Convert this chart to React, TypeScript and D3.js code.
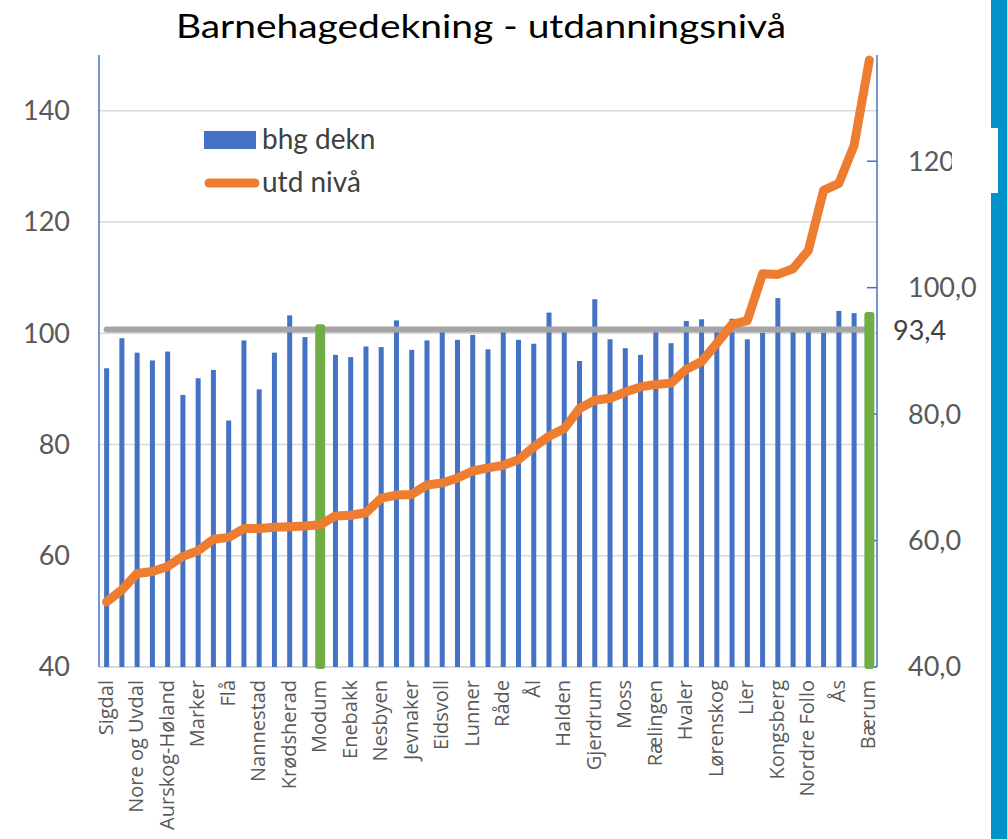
import React from 'react'
import * as d3 from 'd3'

// kommuner sortert etter utdanningsnivå
const kommuner = [
  'Sigdal', 'Rollag', 'Nore og Uvdal', 'Hol', 'Aurskog-Høland', 'Rakkestad', 'Marker', 'Våler', 'Flå', 'Gol',
  'Nannestad', 'Hemsedal', 'Krødsherad', 'Flesberg', 'Modum', 'Øvre Eiker', 'Enebakk', 'Ringerike', 'Nesbyen', 'Indre Østfold',
  'Jevnaker', 'Hurdal', 'Eidsvoll', 'Sarpsborg', 'Lunner', 'Drammen', 'Råde', 'Fredrikstad', 'Ål', 'Nes',
  'Halden', 'Hole', 'Gjerdrum', 'Skiptvet', 'Moss', 'Ullensaker', 'Rælingen', 'Lillestrøm', 'Hvaler', 'Nesodden',
  'Lørenskog', 'Nittedal', 'Lier', 'Vestby', 'Kongsberg', 'Frogn', 'Nordre Follo', 'Asker', 'Ås', 'Oslo',
  'Bærum',
]
const bhgDekn = [
  93.7, 99.1, 96.5, 95.1, 96.7, 88.9, 91.9, 93.4, 84.3, 98.7,
  89.9, 96.5, 103.2, 99.3, 101.6, 96.1, 95.7, 97.6, 97.5, 102.3,
  97.0, 98.7, 100.5, 98.8, 99.7, 97.1, 100.4, 98.8, 98.1, 103.7,
  100.4, 95.0, 106.1, 98.9, 97.3, 96.1, 101.1, 98.2, 102.2, 102.5,
  100.6, 102.6, 98.9, 100.1, 106.3, 100.7, 100.7, 100.1, 104.0, 103.6,
  103.8,
]
const utdNiva = [
  50.3, 52.2, 54.8, 55.1, 55.9, 57.5, 58.4, 60.2, 60.5, 61.9,
  61.9, 62.1, 62.2, 62.3, 62.5, 63.9, 64.0, 64.4, 66.7, 67.2,
  67.3, 68.8, 69.1, 69.9, 71.0, 71.5, 71.9, 72.8, 74.8, 76.5,
  77.7, 80.9, 82.2, 82.5, 83.5, 84.3, 84.7, 84.9, 87.1, 88.3,
  91.2, 94.2, 94.8, 102.2, 102.1, 103.0, 105.9, 115.4, 116.5, 122.5,
  136.0,
]
const uthevet = ['Modum', 'Bærum']
const snittUtd = 93.4
const venstreTicks = [40, 60, 80, 100, 120, 140]
const hoyreTicks = [40, 60, 80, 100, 120]

const W = 1007
const H = 839
const plot = { left: 99, right: 877, top: 55, bottom: 667 }

export default function App() {
  const x = d3.scaleBand<string>().domain(kommuner).range([plot.left, plot.right])
  const cx = (k: string) => (x(k) as number) + x.bandwidth() / 2
  const yL = d3.scaleLinear().domain([40, 150]).range([plot.bottom, plot.top])
  const yR = d3.scaleLinear().domain([40, 136.8]).range([plot.bottom, plot.top])
  const fmt = (v: number) => d3.format('.1f')(v).replace('.', ',')

  const linje = d3.line<number>()
    .x((_, i) => cx(kommuner[i]))
    .y(d => yR(d))

  const calibri = 'Lato, Carlito, Calibri, sans-serif'
  const grey = '#595959'

  return (
    <div style={{ position: 'absolute', left: 0, top: 0 }}>
      <svg width={W} height={H} style={{ display: 'block', background: '#fff' }}>
        <text transform="translate(481,38) scale(1.18,1)" textAnchor="middle" fontFamily={calibri} fontSize={33} fill="#000">
          Barnehagedekning - utdanningsnivå
        </text>

        {/* gridlines */}
        {venstreTicks.map(t => (
          <line key={t} x1={plot.left} x2={plot.right} y1={yL(t)} y2={yL(t)}
            stroke="#d9d9d9" strokeWidth={t === 40 ? 2 : 1.5} />
        ))}

        {/* axes */}
        <line x1={plot.left} x2={plot.left} y1={plot.top} y2={plot.bottom} stroke="#4472c4" strokeWidth={1.5} />
        <line x1={plot.right} x2={plot.right} y1={plot.top} y2={plot.bottom} stroke="#4472c4" strokeWidth={1.5} />
        {hoyreTicks.map(t => (
          <line key={t} x1={plot.right - 10} x2={plot.right} y1={yR(t)} y2={yR(t)} stroke="#4472c4" strokeWidth={1.5} />
        ))}

        {venstreTicks.map(t => (
          <text key={t} x={70} y={yL(t)} dy="0.35em" textAnchor="end" fontFamily={calibri} fontSize={27} fill={grey}>{t}</text>
        ))}
        {hoyreTicks.map(t => (
          <text key={t} x={908} y={yR(t)} dy="0.35em" fontFamily={calibri} fontSize={27} fill={grey}>{fmt(t)}</text>
        ))}

        {/* blue bars */}
        {kommuner.map((k, i) => uthevet.includes(k) ? null : (
          <rect key={k} x={cx(k) - 2.5} width={5} y={yL(bhgDekn[i])} height={yL(40) - yL(bhgDekn[i])} fill="#4472c4" />
        ))}

        {/* average line */}
        <line x1={cx(kommuner[0])} x2={cx(kommuner[kommuner.length - 1])} y1={yR(snittUtd)} y2={yR(snittUtd)}
          stroke="#a5a5a5" strokeWidth={6} strokeLinecap="round" />

        {/* highlighted bars */}
        {kommuner.map((k, i) => uthevet.includes(k) ? (
          <rect key={k} x={cx(k) - 5} width={10} y={yL(bhgDekn[i])} height={yL(40) - yL(bhgDekn[i]) + 2}
            rx={3} fill="#70ad47" />
        ) : null)}

        <path d={linje(utdNiva) || ''} fill="none" stroke="#ed7d31" strokeWidth={9}
          strokeLinejoin="round" strokeLinecap="round" />

        <text x={893} y={yR(snittUtd)} dy="0.4em" fontFamily={calibri} fontSize={27} fill="#404040">{fmt(snittUtd)}</text>

        {/* category labels, every other one */}
        {kommuner.map((k, i) => i % 2 === 0 ? (
          <text key={k} transform={`translate(${cx(k) + 6},680) rotate(-90)`} textAnchor="end"
            fontFamily="'Open Sans', sans-serif" fontSize={20} fill={grey}>{k}</text>
        ) : null)}

        {/* legend */}
        <rect x={204} y={131} width={52} height={18} fill="#4472c4" />
        <text x={262} y={149} fontFamily={calibri} fontSize={28} fill="#404040">bhg dekn</text>
        <line x1={209} x2={255} y1={183} y2={183} stroke="#ed7d31" strokeWidth={9} strokeLinecap="round" />
        <text x={262} y={192} fontFamily={calibri} fontSize={28} fill="#404040">utd nivå</text>

        {/* slide edge */}
        <rect x={991} y={0} width={16} height={H} fill="#0092c8" />
        <rect x={952} y={128} width={46} height={65} fill="#fff" />
      </svg>
    </div>
  )
}
